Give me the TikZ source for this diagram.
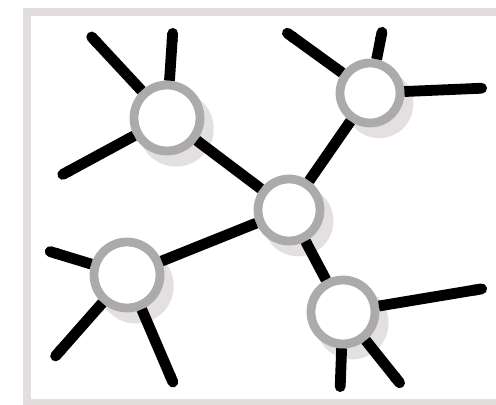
\documentclass[tikz,border=0pt]{standalone}
\usetikzlibrary{shadows,arrows.meta}

\definecolor{ringgray}{HTML}{ABABAB}
\definecolor{shadegray}{HTML}{E4E0E0}
\definecolor{framegray}{HTML}{E2DEDE}

\tikzstyle{hub} = [circle, draw=ringgray, line width=2.2mm, fill=white, minimum size=16mm, inner sep=0pt, drop shadow={shadow xshift=2mm, shadow yshift=-2.4mm, shadow scale=1.14, fill=shadegray, opacity=1}]
\tikzstyle{link} = [line width=2.7mm, line cap=butt]
\tikzstyle{spoke} = [link, -{Round Cap[]}]
\tikzstyle{frame} = [draw=framegray, line width=1.8mm]

\begin{document}
\begin{tikzpicture}[x=0.25mm, y=-0.25mm]

	\useasboundingbox (0,0) rectangle (496,405);
	\draw [frame] (520,12) -- (27,12) -- (27,403) -- (520,403);

	\node (hubA) [hub, minimum size=16.5mm] at (167,118) {};
	\node (hubB) [hub, minimum size=15mm] at (370,93) {};
	\node (hubC) [hub, minimum size=15.5mm] at (289,210) {};
	\node (hubD) [hub, minimum size=16.5mm] at (127,275) {};
	\node (hubE) [hub, minimum size=16mm] at (343,312) {};

	\coordinate (a1) at (88,33);
	\coordinate (a2) at (173,28);
	\coordinate (a3) at (58,177);
	\coordinate (b1) at (283,30);
	\coordinate (b2) at (383,27);
	\coordinate (b3) at (487,88);
	\coordinate (d1) at (45,250);
	\coordinate (d2) at (52,360);
	\coordinate (d3) at (175,387);
	\coordinate (e1) at (487,288);
	\coordinate (e2) at (340,392);
	\coordinate (e3) at (403,387);

	%links
	\draw [link] (hubA) -- (hubC);
	\draw [link] (hubB) -- (hubC);
	\draw [link] (hubD) -- (hubC);
	\draw [link] (hubE) -- (hubC);

	%spokes
	\draw [spoke] (hubA) -- (a1);
	\draw [spoke] (hubA) -- (a2);
	\draw [spoke] (hubA) -- (a3);
	\draw [spoke] (hubB) -- (b1);
	\draw [spoke] (hubB) -- (b2);
	\draw [spoke] (hubB) -- (b3);
	\draw [spoke] (hubD) -- (d1);
	\draw [spoke] (hubD) -- (d2);
	\draw [spoke] (hubD) -- (d3);
	\draw [spoke] (hubE) -- (e1);
	\draw [spoke] (hubE) -- (e2);
	\draw [spoke] (hubE) -- (e3);

\end{tikzpicture}
\end{document}
